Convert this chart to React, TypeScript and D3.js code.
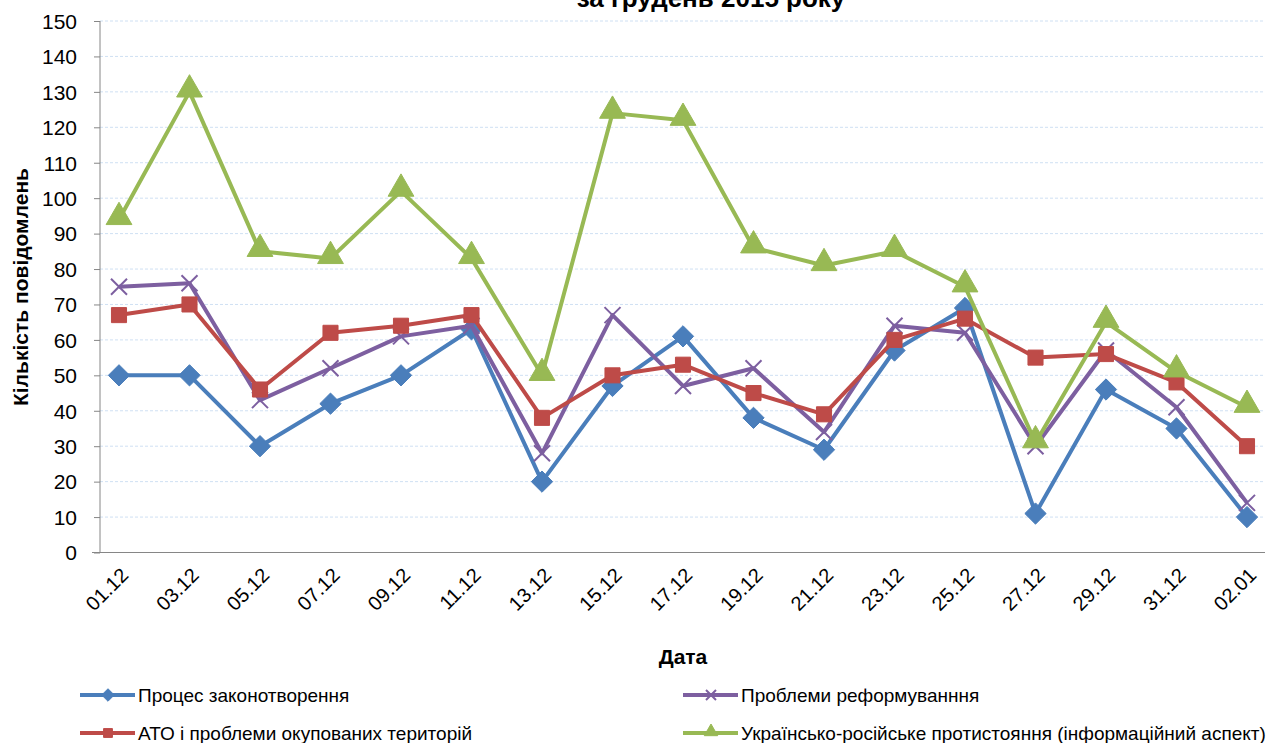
import React, { useEffect, useRef } from "react";
import * as d3 from "d3";

const dates = ["01.12", "03.12", "05.12", "07.12", "09.12", "11.12", "13.12", "15.12", "17.12",
  "19.12", "21.12", "23.12", "25.12", "27.12", "29.12", "31.12", "02.01"];

const zakon = [50, 50, 30, 42, 50, 63, 20, 47, 61, 38, 29, 57, 69, 11, 46, 35, 10];
const reform = [75, 76, 43, 52, 61, 64, 28, 67, 47, 52, 34, 64, 62, 30, 57, 41, 14];
const ato = [67, 70, 46, 62, 64, 67, 38, 50, 53, 45, 39, 60, 66, 55, 56, 48, 30];
const protyst = [94, 130, 85, 83, 102, 83, 50, 124, 122, 86, 81, 85, 75, 31, 65, 51, 41];

const yTicks = d3.range(0, 151, 10);

const W = 1267;
const H = 743;
const FONT = "'Liberation Sans', Arial, sans-serif";

// drawing order matters (later series sit on top)
const series = [
  { name: "Процес законотворення", values: zakon, color: "#4A7EBB", marker: "diamond" },
  { name: "Проблеми реформуванння", values: reform, color: "#7D5FA0", marker: "cross" },
  { name: "АТО і проблеми окупованих територій", values: ato, color: "#BE4B48", marker: "square" },
  { name: "Українсько-російське протистояння (інформаційний аспект)", values: protyst, color: "#98B954", marker: "triangle" },
];

function drawMarker(g: any, kind: string, color: string, cx: number, cy: number, size: number) {
  if (kind === "cross") {
    const h = size / 2;
    g.append("path")
      .attr("d", `M${cx - h},${cy - h}L${cx + h},${cy + h}M${cx - h},${cy + h}L${cx + h},${cy - h}`)
      .attr("stroke", color).attr("stroke-width", 2).attr("fill", "none");
    return;
  }
  const sym = kind === "diamond" ? d3.symbolDiamond2 : kind === "square" ? d3.symbolSquare2 : d3.symbolTriangle2;
  const area = kind === "triangle" ? size * size * 0.9 : size * size;
  const dy = kind === "triangle" ? -size * 0.1 : 0;
  g.append("path")
    .attr("d", d3.symbol().type(sym).size(area)() as string)
    .attr("transform", `translate(${cx},${cy + dy})`)
    .attr("fill", color)
    .attr("stroke", color)
    .attr("stroke-width", 1);
}

function drawChart(svgEl: SVGSVGElement) {
  const svg = d3.select(svgEl);
  svg.selectAll("*").remove();

  const x = d3.scalePoint<string>().domain(dates).range([119, 1247]);
  const y = d3.scaleLinear().domain([0, 150]).range([552.5, 21]);
  const axisLeft = 100;
  const axisRight = 1265;

  // gridlines
  svg.append("g")
    .selectAll("line")
    .data(yTicks.filter((t) => t > 0))
    .enter()
    .append("line")
    .attr("x1", axisLeft)
    .attr("x2", axisRight)
    .attr("y1", (d) => y(d))
    .attr("y2", (d) => y(d))
    .attr("stroke", "#CFE0F3")
    .attr("stroke-width", 1)
    .attr("stroke-dasharray", "3,2");

  // y axis
  const yAxis = svg.append("g")
    .attr("transform", `translate(${axisLeft},0)`)
    .call(d3.axisLeft(y).tickValues(yTicks).tickSize(6).tickPadding(17).tickFormat(d3.format("d")));
  yAxis.select(".domain").attr("stroke", "#868686").attr("d", `M0,${y(150)}V${y(0)}`);
  yAxis.selectAll(".tick line").attr("stroke", "#868686");
  yAxis.selectAll(".tick text")
    .attr("font-family", FONT)
    .attr("font-size", 21)
    .attr("fill", "#000")
    .attr("dy", "0.35em");

  // x axis
  const xAxis = svg.append("g")
    .attr("transform", `translate(0,${y(0)})`)
    .call(d3.axisBottom(x).tickSize(0).tickPadding(0));
  xAxis.select(".domain").attr("stroke", "#868686").attr("d", `M${axisLeft - 8},0H${axisRight}`);
  xAxis.selectAll(".tick text")
    .attr("font-family", FONT)
    .attr("font-size", 20)
    .attr("fill", "#000")
    .attr("text-anchor", "end")
    .attr("dy", null)
    .attr("y", null)
    .attr("transform", "translate(10,24) rotate(-45)");

  // series
  const line = d3.line<number>()
    .x((_, i) => x(dates[i]) as number)
    .y((d) => y(d));

  series.forEach((s) => {
    const g = svg.append("g");
    g.append("path")
      .datum(s.values)
      .attr("d", line)
      .attr("fill", "none")
      .attr("stroke", s.color)
      .attr("stroke-width", 4)
      .attr("stroke-linejoin", "round");
    s.values.forEach((v, i) => {
      const size = s.marker === "triangle" ? 23 : s.marker === "cross" ? 16 : 17;
      drawMarker(g, s.marker, s.color, x(dates[i]) as number, y(v), size);
    });
  });

  // titles
  svg.append("text")
    .attr("x", 711).attr("y", 7)
    .attr("text-anchor", "middle")
    .attr("font-family", FONT).attr("font-weight", "bold").attr("font-size", 26)
    .text("за грудень 2015 року");

  svg.append("text")
    .attr("transform", `translate(28,287) rotate(-90)`)
    .attr("text-anchor", "middle")
    .attr("font-family", FONT).attr("font-weight", "bold").attr("font-size", 21)
    .text("Кількість повідомлень");

  svg.append("text")
    .attr("x", 683).attr("y", 664)
    .attr("text-anchor", "middle")
    .attr("font-family", FONT).attr("font-weight", "bold").attr("font-size", 21)
    .text("Дата");

  // legend (2 columns)
  const legendPos = [
    { x: 80, y: 695 },
    { x: 683, y: 695 },
    { x: 80, y: 733 },
    { x: 683, y: 733 },
  ];
  series.forEach((s, i) => {
    const p = legendPos[i];
    const g = svg.append("g");
    g.append("line")
      .attr("x1", p.x).attr("x2", p.x + 55)
      .attr("y1", p.y).attr("y2", p.y)
      .attr("stroke", s.color).attr("stroke-width", 4);
    drawMarker(g, s.marker, s.color, p.x + 28, p.y, s.marker === "triangle" ? 12 : 10);
    g.append("text")
      .attr("x", p.x + 58).attr("y", p.y)
      .attr("dy", "0.35em")
      .attr("font-family", FONT).attr("font-size", 19)
      .text(s.name);
  });
}

export default function App() {
  const ref = useRef<SVGSVGElement>(null);
  useEffect(() => {
    if (ref.current) drawChart(ref.current);
  }, []);
  return (
    <svg ref={ref} width={W} height={H} style={{ position: "absolute", left: 0, top: 0, background: "#fff" }} />
  );
}
